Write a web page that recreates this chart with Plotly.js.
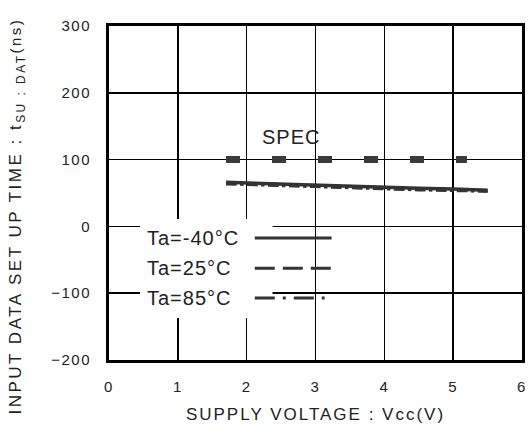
<!DOCTYPE html>
<html>
<head>
<meta charset="utf-8">
<script src="https://cdn.plot.ly/plotly-3.0.1.min.js"></script>
<style>
html, body { margin: 0; padding: 0; background: #fff; }
#chart { width: 532px; height: 439px; }
.xtick text, .ytick text { letter-spacing: 1.5px; }
.xtitle { letter-spacing: 2px; }
.annotation-text { letter-spacing: 1px; }
.ytitleann .annotation-text { letter-spacing: 2.5px; }
</style>
</head>
<body>
<div id="chart"></div>
<script>
// Data
const voltage = [1.7, 2.0, 2.5, 3.0, 3.5, 4.0, 4.5, 5.0, 5.5];
const ta_m40 = [66, 65, 63, 61, 60, 58, 57, 56, 54];
const ta_25  = [65, 64, 62, 60, 59, 57, 56, 55, 53];
const ta_85  = [64, 63, 61, 60, 58, 57, 55, 54, 53];
const specX = [1.7, 5.2];
const specY = [100, 100];
const seriesNames = ['Ta=-40°C', 'Ta=25°C', 'Ta=85°C'];
const seriesDash = ['solid', 'dash', 'dashdot'];
const xTicks = [0, 1, 2, 3, 4, 5, 6];
const yTicks = [-200, -100, 0, 100, 200, 300];

const FONT = 'Liberation Sans, Arial, sans-serif';
const INK = '#222';
const LINE = '#333';

const traces = [
  {x: voltage, y: ta_m40, name: seriesNames[0], mode: 'lines', line: {color: LINE, width: 3.5, dash: seriesDash[0]}},
  {x: voltage, y: ta_25, name: seriesNames[1], mode: 'lines', line: {color: LINE, width: 3.5, dash: seriesDash[1]}},
  {x: voltage, y: ta_85, name: seriesNames[2], mode: 'lines', line: {color: LINE, width: 3.5, dash: seriesDash[2]}},
  {x: specX, y: specY, name: 'SPEC', mode: 'lines', line: {color: '#3a3a3a', width: 7, dash: '14px,32px'}}
];

// legend rows (paper coords)
const legRows = [0.365, 0.275, 0.186];
const legDash = ['solid', '20px,8px', '20px,8px,3px,8px'];
const legEnd = [0.539, 0.539, 0.522];

const shapes = [
  {type: 'rect', xref: 'paper', yref: 'paper', x0: 0.075, x1: 0.396, y0: 0.126, y1: 0.422,
   fillcolor: '#fff', line: {width: 0}, layer: 'above'}
];
legRows.forEach((yy, i) => {
  shapes.push({type: 'line', xref: 'paper', yref: 'paper', x0: 0.353, x1: legEnd[i], y0: yy, y1: yy,
    line: {color: LINE, width: 3, dash: legDash[i]}, layer: 'above'});
});

const annotations = seriesNames.map((t, i) => ({
  text: t, xref: 'paper', yref: 'paper', x: 0.087, y: legRows[i], xanchor: 'left', yanchor: 'middle',
  showarrow: false, font: {family: FONT, size: 20, color: INK}
}));
annotations.push({text: 'SPEC', xref: 'paper', yref: 'paper', x: 0.44, y: 0.668, xanchor: 'center', yanchor: 'middle',
  showarrow: false, font: {family: FONT, size: 20, color: INK}});
annotations.push({text: 'INPUT DATA SET UP TIME : t<sub>SU : DAT</sub><span style="font-size:15px">(ns)</span>',
  xref: 'paper', yref: 'paper', x: 0, y: 0.431, xshift: -92, xanchor: 'center', yanchor: 'middle',
  textangle: -90, showarrow: false, font: {family: FONT, size: 17, color: INK}, name: 'ytitle'});

const layout = {
  width: 532, height: 439,
  margin: {l: 109, r: 10, t: 26, b: 79},
  paper_bgcolor: '#fff', plot_bgcolor: '#fff',
  showlegend: false,
  font: {family: FONT, color: INK},
  xaxis: {
    range: [0, 6], tickvals: xTicks, ticks: '', showgrid: true, gridcolor: '#000', gridwidth: 1.5,
    zeroline: false, showline: true, linecolor: '#000', linewidth: 3, mirror: true,
    tickfont: {family: FONT, size: 15, color: INK}, ticklabelstandoff: 11,
    title: {text: 'SUPPLY VOLTAGE : Vcc(V)', font: {family: FONT, size: 17, color: INK}, standoff: 15}
  },
  yaxis: {
    range: [-200, 300], tickvals: yTicks, ticks: '', showgrid: true, gridcolor: '#000', gridwidth: 1.5,
    zeroline: false, showline: true, linecolor: '#000', linewidth: 3, mirror: true,
    tickfont: {family: FONT, size: 15, color: INK}, ticklabelstandoff: 12
  },
  shapes: shapes,
  annotations: annotations
};

Plotly.newPlot('chart', traces, layout, {displayModeBar: false, staticPlot: true}).then(() => {
  const anns = document.querySelectorAll('.annotation');
  const last = anns[anns.length - 1];
  if (last) last.classList.add('ytitleann');
});
</script>
</body>
</html>
